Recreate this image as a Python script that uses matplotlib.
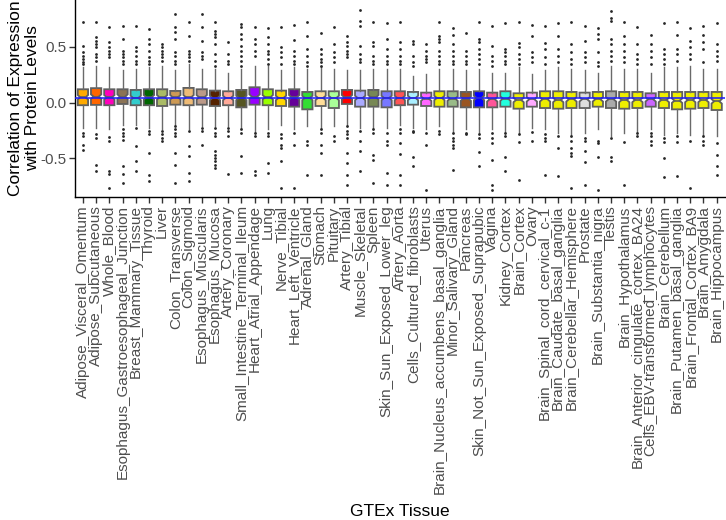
import matplotlib
matplotlib.use("Agg")
import matplotlib.pyplot as plt

plt.rcParams['font.family'] = ['Liberation Sans', 'DejaVu Sans']

tissues = [
    'Adipose_Visceral_Omentum', 'Adipose_Subcutaneous', 'Whole_Blood',
    'Esophagus_Gastroesophageal_Junction', 'Breast_Mammary_Tissue', 'Thyroid',
    'Liver', 'Colon_Transverse', 'Colon_Sigmoid', 'Esophagus_Muscularis',
    'Esophagus_Mucosa', 'Artery_Coronary', 'Small_Intestine_Terminal_Ileum',
    'Heart_Atrial_Appendage', 'Lung', 'Nerve_Tibial', 'Heart_Left_Ventricle',
    'Adrenal_Gland', 'Stomach', 'Pituitary', 'Artery_Tibial', 'Muscle_Skeletal',
    'Spleen', 'Skin_Sun_Exposed_Lower_leg', 'Artery_Aorta',
    'Cells_Cultured_fibroblasts', 'Uterus', 'Brain_Nucleus_accumbens_basal_ganglia',
    'Minor_Salivary_Gland', 'Pancreas', 'Skin_Not_Sun_Exposed_Suprapubic', 'Vagina',
    'Kidney_Cortex', 'Brain_Cortex', 'Ovary', 'Brain_Spinal_cord_cervical_c-1',
    'Brain_Caudate_basal_ganglia', 'Brain_Cerebellar_Hemisphere', 'Prostate',
    'Brain_Substantia_nigra', 'Testis', 'Brain_Hypothalamus',
    'Brain_Anterior_cingulate_cortex_BA24', 'Cells_EBV-transformed_lymphocytes',
    'Brain_Cerebellum', 'Brain_Putamen_basal_ganglia', 'Brain_Frontal_Cortex_BA9',
    'Brain_Amygdala', 'Brain_Hippocampus',
]

# GTEx tissue colours
colors = [
    '#FFAA00', '#FF6600', '#FF00BB', '#8B7355', '#33CCCC', '#006600',
    '#AABB66', '#CC9955', '#EEBB77', '#BB9988', '#552200', '#FFAA99',
    '#555522', '#9900FF', '#99FF00', '#FFD700', '#660099', '#33DD33',
    '#FFDD99', '#AAFF99', '#FF0000', '#AAAAFF', '#778855', '#7777FF',
    '#FF5555', '#AAEEFF', '#FF66FF', '#EEEE00', '#99BB88', '#995522',
    '#0000FF', '#FF5599', '#22FFDD', '#EEEE00', '#FFAAFF', '#EEEE00',
    '#EEEE00', '#EEEE00', '#DDDDDD', '#EEEE00', '#AAAAAA', '#EEEE00',
    '#EEEE00', '#CC66FF', '#EEEE00', '#EEEE00', '#EEEE00', '#EEEE00', '#EEEE00',
]

q3 = [0.12, 0.13, 0.12, 0.12, 0.114, 0.12, 0.12, 0.105, 0.132, 0.12, 0.108, 0.102,
      0.114, 0.138, 0.12, 0.108, 0.12, 0.096, 0.102, 0.102, 0.114, 0.108, 0.114,
      0.102, 0.102, 0.096, 0.09, 0.102, 0.102, 0.096, 0.102, 0.09, 0.102, 0.084,
      0.09, 0.102, 0.102, 0.096, 0.09, 0.096, 0.102, 0.096, 0.096, 0.084, 0.096,
      0.096, 0.096, 0.096, 0.096]
med = [0.048, 0.054, 0.048, 0.054, 0.042, 0.048, 0.048, 0.048, 0.048, 0.048, 0.042,
       0.042, 0.042, 0.054, 0.048, 0.042, 0.048, 0.042, 0.042, 0.042, 0.048, 0.042,
       0.048, 0.042, 0.042, 0.042, 0.036, 0.042, 0.036, 0.036, 0.042, 0.03, 0.036,
       0.024, 0.03, 0.03, 0.024, 0.03, 0.03, 0.03, 0.03, 0.024, 0.024, 0.03, 0.024,
       0.018, 0.024, 0.024, 0.012]
q1 = [-0.023, -0.02, -0.023, -0.012, -0.023, -0.023, -0.03, -0.018, -0.023, -0.018,
      -0.03, -0.023, -0.042, -0.018, -0.023, -0.03, -0.036, -0.06, -0.03, -0.048,
      -0.012, -0.036, -0.036, -0.042, -0.023, -0.018, -0.03, -0.036, -0.036, -0.042,
      -0.042, -0.042, -0.036, -0.054, -0.036, -0.048, -0.054, -0.048, -0.048, -0.036,
      -0.048, -0.054, -0.048, -0.036, -0.048, -0.06, -0.054, -0.048, -0.066]
whishi = [0.32, 0.33, 0.32, 0.29, 0.30, 0.32, 0.33, 0.29, 0.35, 0.30, 0.30, 0.27,
          0.30, 0.33, 0.33, 0.29, 0.32, 0.30, 0.32, 0.30, 0.29, 0.29, 0.30, 0.30,
          0.30, 0.24, 0.26, 0.30, 0.30, 0.29, 0.30, 0.27, 0.27, 0.32, 0.26, 0.29,
          0.32, 0.30, 0.29, 0.27, 0.33, 0.30, 0.30, 0.27, 0.32, 0.32, 0.33, 0.30, 0.30]
whislo = [-0.23, -0.23, -0.24, -0.20, -0.20, -0.23, -0.24, -0.20, -0.24, -0.21, -0.21,
          -0.21, -0.23, -0.26, -0.24, -0.20, -0.24, -0.21, -0.23, -0.21, -0.20, -0.23,
          -0.23, -0.23, -0.20, -0.23, -0.24, -0.21, -0.26, -0.24, -0.27, -0.24, -0.26,
          -0.27, -0.23, -0.24, -0.27, -0.29, -0.27, -0.24, -0.30, -0.27, -0.26, -0.24,
          -0.29, -0.27, -0.29, -0.29, -0.30]
fliers = [
    [.72, .51, .45, .42, .39, .36, .35, -.27, -.30, -.375, -.42],
    [.72, .59, .555, .525, .495, .435, .405, .375, -.285, -.315, -.555, -.61],
    [.68, .54, .50, .465, .435, .405, -.31, -.345, -.615, -.64, -.765],
    [.69, .57, .465, .435, .405, .375, .345, -.24, -.27, -.30, -.33, -.57, -.64, -.72],
    [.69, .495, .465, .42, .375, .345, -.225, -.39, -.525, -.615],
    [.66, .57, .525, .465, .405, .375, .345, -.255, -.285, -.45, -.645, -.705],
    [.525, .495, .465, .435, .405, .375, -.255, -.285, -.315, -.345],
    [.795, .675, .63, .57, .45, .42, .375, .345, -.21, -.24, -.27, -.30, -.45, -.555, -.72],
    [.72, .60, .465, .435, .405, .375, -.255, -.39, -.48, -.63, -.70],
    [.795, .68, .555, .45, .42, .39, -.225, -.255, -.375],
    [.72, .645, .615, .585, .525, .435, .375, .33, -.225, -.27, -.30, -.435, -.465,
     -.495, -.525, -.555, -.585],
    [.54, .435, .375, .345, -.225, -.255, -.30, -.64],
    [.705, .675, .615, .57, .51, .465, .42, .375, .33, -.24, -.27, -.48, -.63],
    [.68, .57, .525, .465, .42, -.27, -.30, -.615, -.645],
    [.67, .585, .525, .465, .435, .39, .345, -.27, -.30, -.54, -.63],
    [.68, .495, .45, .405, .345, -.285, -.315, -.375, -.405, -.525, -.765],
    [.70, .56, .465, .42, .375, .345, -.27, -.375, -.765],
    [.72, .60, .48, .42, .36, .33, -.345, -.375, -.65],
    [.62, .48, .435, .39, .36, .33, -.24, -.27, -.375, -.45, -.65],
    [.675, .525, .45, .405, .36, -.30, -.345],
    [.60, .54, .51, .465, .435, .405, -.21, -.255, -.285, -.315, -.45, -.54, -.645, -.735],
    [.83, .73, .69, .51, .435, .39, .36, -.255, -.345, -.435, -.61],
    [.72, .54, .51, .42, .375, .345, -.24, -.27, -.465, -.51, -.72],
    [.71, .57, .48, .42, .375, .345, -.27, -.345, -.375, -.63, -.735],
    [.72, .54, .48, .42, .375, .345, -.24, -.27, -.36, -.46, -.645, -.735],
    [.555, .525, .42, .36, .33, -.25, -.26, -.485, -.565],
    [.525, .465, .42, .39, .36, -.27, -.375, -.78],
    [.72, .60, .57, .54, .465, .42, .375, .345, -.255, -.285],
    [.67, .61, .525, .465, .42, .375, .345, -.27, -.315, -.345, -.375, -.405, -.60],
    [.62, .465, .42, .375, .345, -.27, -.285],
    [.72, .57, .54, .48, .435, .39, .345, -.285, -.315, -.44, -.565],
    [.69, .51, .42, .375, .33, -.27, -.315, -.365, -.51, -.735, -.78],
    [.71, .48, .45, .42, .375, .345, -.27, -.30, -.485, -.61],
    [.72, .53, .495, .435, .39, .345, -.285, -.35, -.69],
    [.70, .60, .45, .405, .36, -.26, -.345],
    [.685, .53, .48, .405, .345, -.285, -.315, -.345, -.645],
    [.71, .60, .48, .42, .36, -.30, -.405, -.655],
    [.72, .525, .45, .39, .345, -.30, -.345, -.405, -.45, -.48, -.76],
    [.685, .555, .45, .405, .36, -.315, -.345, -.435, -.535, -.74],
    [.665, .615, .57, .45, .36, .33, -.345, -.365, -.485, -.78],
    [.825, .76, .73, .57, .525, .465, .42, .375, -.315, -.485, -.525],
    [.72, .60, .525, .465, .405, .36, -.35, -.74],
    [.68, .525, .435, .39, .345, -.27, -.30],
    [.61, .525, .465, .405, .345, -.27, -.30, -.345, -.375],
    [.71, .48, .435, .39, .345, -.315, -.35, -.495, -.665],
    [.72, .61, .48, .435, .375, -.30, -.35, -.655],
    [.67, .555, .495, .435, .39, -.345, -.76],
    [.685, .61, .545, .48, .36, -.30, -.345, -.38],
    [.71, .525, .465, .42, .375, -.36, -.47, -.57, -.65],
]
notch_half = 0.02
ref_line = 0.04

stats = []
for i in range(len(tissues)):
    stats.append(dict(med=med[i], q1=q1[i], q3=q3[i], whislo=whislo[i],
                      whishi=whishi[i], fliers=fliers[i],
                      cilo=med[i] - notch_half, cihi=med[i] + notch_half))

fig = plt.figure(figsize=(7.26, 5.2), dpi=100)
ax = fig.add_axes([75 / 726, 1 - 197 / 520, 649.6 / 726, 196.5 / 520])

pos = list(range(1, len(tissues) + 1))
bp = ax.bxp(stats, positions=pos, widths=0.78, shownotches=True, patch_artist=True,
            boxprops=dict(edgecolor='#5f5f5f', linewidth=1.3),
            whiskerprops=dict(color='#6a6a6a', linewidth=1.0),
            capprops=dict(linewidth=0),
            medianprops=dict(color='#5f5f5f', linewidth=1.2),
            flierprops=dict(marker='o', markersize=2.0, markerfacecolor='#262626',
                            markeredgewidth=0, linestyle='none'))
for patch, c in zip(bp['boxes'], colors):
    patch.set_facecolor(c)

ax.axhline(ref_line, color='#1a1aff', linewidth=1.1, zorder=5)

ax.set_xlim(0.4, len(tissues) + 0.6)
ax.set_ylim(-0.845, 0.915)
ax.set_yticks([-0.5, 0.0, 0.5])
ax.set_yticklabels(['-0.5', '0.0', '0.5'])
ax.set_xticks(pos)
ax.set_xticklabels(tissues, rotation=90, ha='center', va='top')
ax.tick_params(axis='both', colors='#333333', length=4, width=1.0,
               labelsize=11, labelcolor='#4d4d4d', pad=2)

for s in ['top', 'right']:
    ax.spines[s].set_visible(False)
for s in ['left', 'bottom']:
    ax.spines[s].set_linewidth(1.0)
    ax.spines[s].set_color('black')

fig.text(24 / 726, 1 - 98 / 520, 'Correlation of Expression\nwith Protein Levels',
         rotation=90, ha='center', va='center', multialignment='center', fontsize=12.5)
fig.text(400 / 726, 1 - 512 / 520, 'GTEx Tissue', ha='center', va='center', fontsize=12.5)

fig.savefig('out.png', dpi=100)
